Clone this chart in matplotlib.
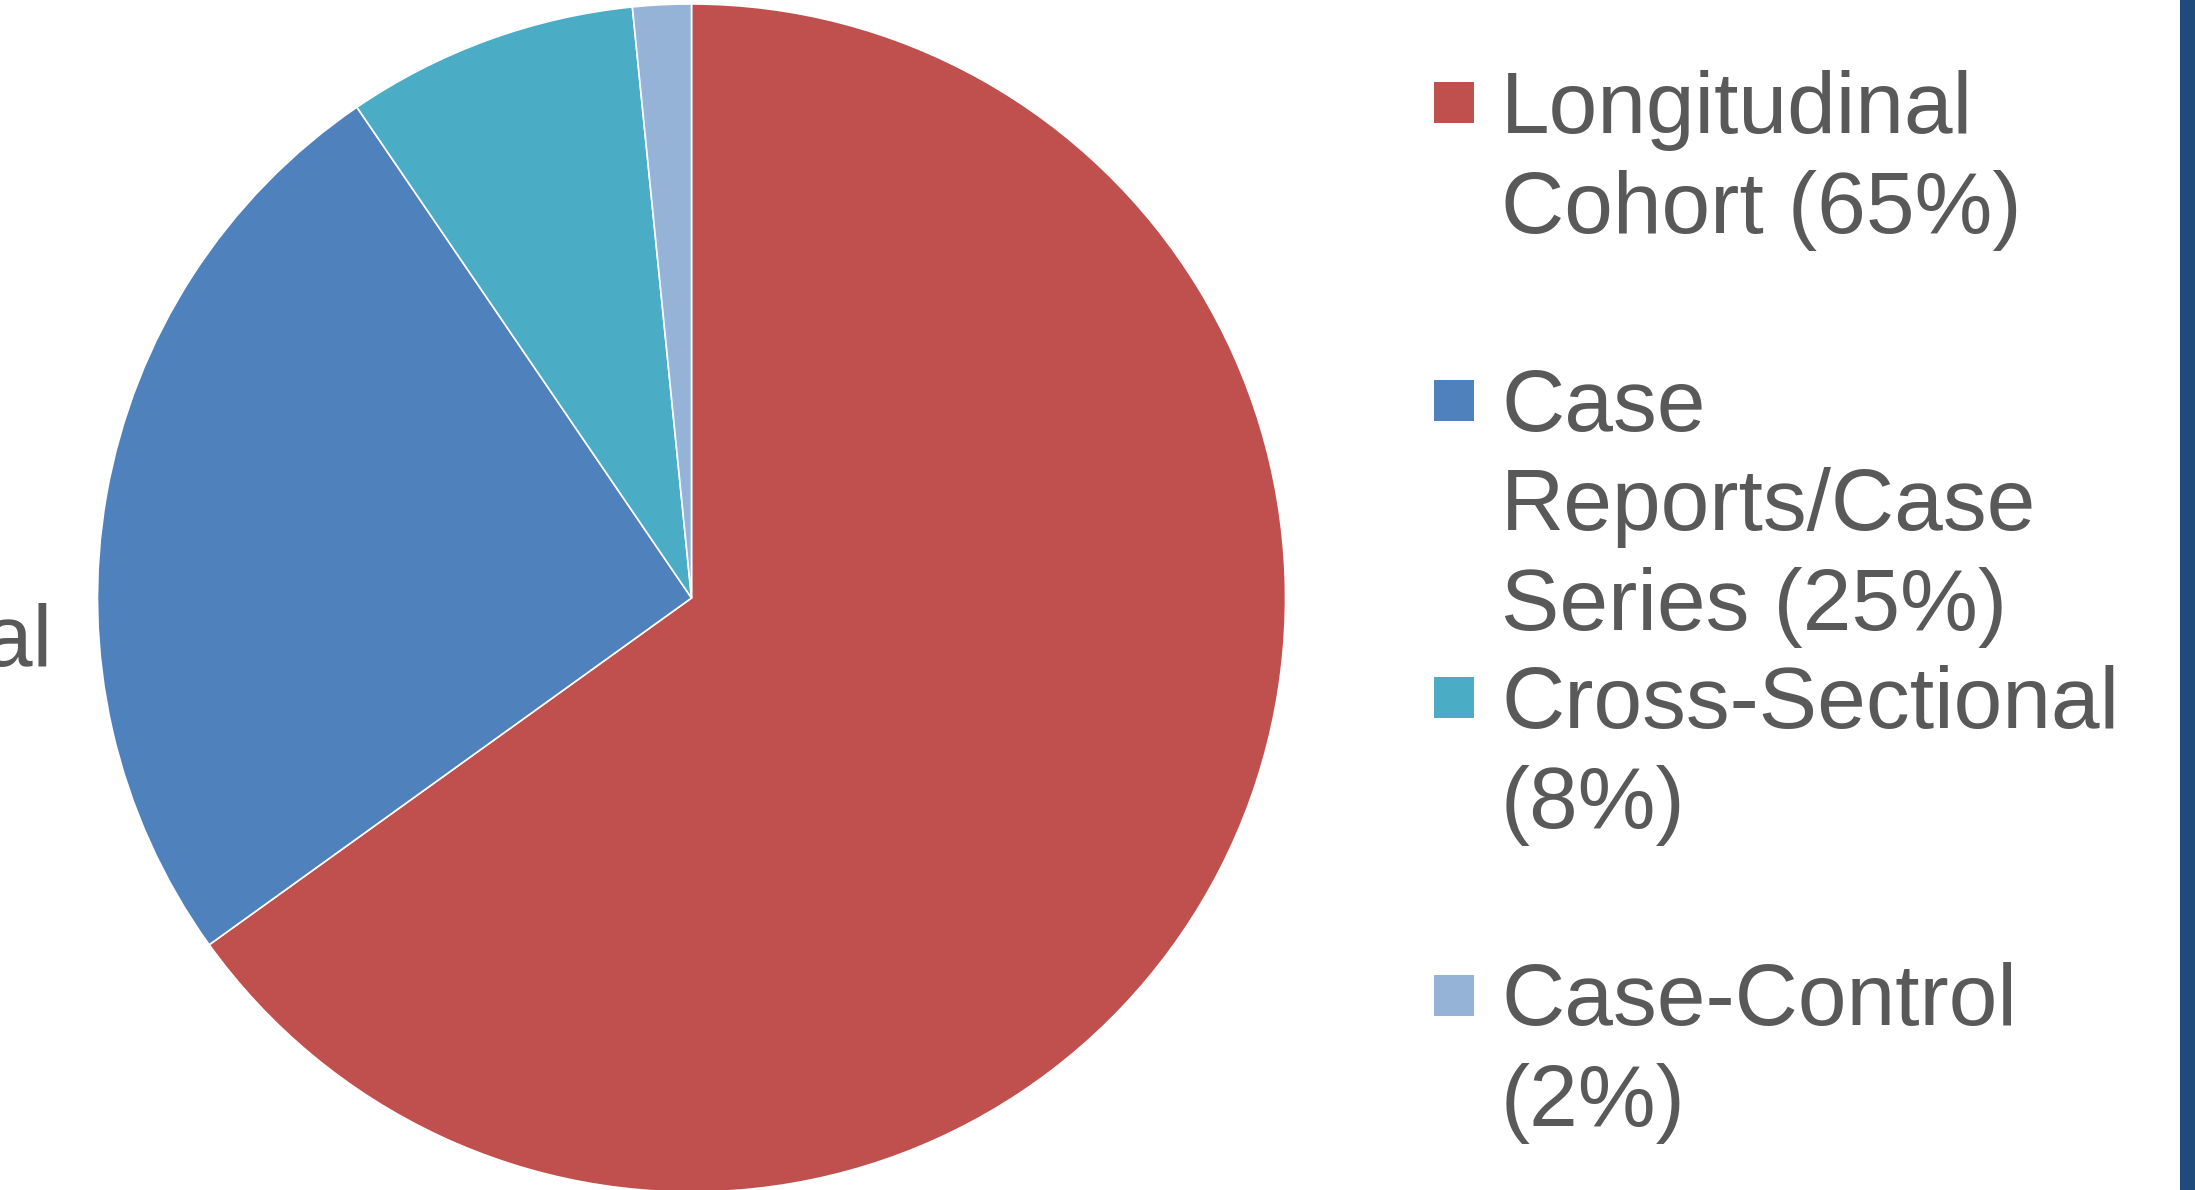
import matplotlib.pyplot as plt
from matplotlib.patches import Rectangle

# study design counts (63 studies)
designs = ["Longitudinal Cohort", "Case Reports/Case Series", "Cross-Sectional", "Case-Control"]
counts = [41, 16, 5, 1]
legend_lines = [
    ["Longitudinal", "Cohort (65%)"],
    ["Case", "Reports/Case", "Series (25%)"],
    ["Cross-Sectional", "(8%)"],
    ["Case-Control", "(2%)"],
]
colors = ["#C0504D", "#4F81BD", "#4BACC6", "#95B3D7"]

W, H = 2195, 1190
fig = plt.figure(figsize=(W / 100, H / 100), dpi=100)
plt.rcParams["font.family"] = ["Liberation Sans", "DejaVu Sans"]
txt_color = "#595959"

cx, cy, r = 691.5, 598, 594
ax = fig.add_axes([(cx - r) / W, 1 - (cy + r) / H, 2 * r / W, 2 * r / H])
ax.pie(counts, colors=colors, startangle=90, counterclock=False, radius=1,
       wedgeprops=dict(edgecolor="white", linewidth=1.2))
ax.set_xlim(-1, 1)
ax.set_ylim(-1, 1)
ax.axis("off")

# clipped label at the left edge
fig.text(53 / W, 1 - 666 / H, "Longitudinal", ha="right", va="baseline",
         fontsize=63, color=txt_color)

# legend drawn by hand (Excel-style spacing)
for i, lines in enumerate(legend_lines):
    base = 133 + 297.5 * i
    fig.patches.append(Rectangle((1434 / W, 1 - (base - 10) / H), 40 / W, 41 / H,
                                 transform=fig.transFigure, facecolor=colors[i],
                                 edgecolor="none"))
    for k, line in enumerate(lines):
        fig.text(1501 / W, 1 - (base + 100 * k) / H, line, ha="left", va="baseline",
                 fontsize=63, color=txt_color)

# dark blue bar on the right edge
fig.patches.append(Rectangle((2180 / W, 0), 15 / W, 1, transform=fig.transFigure,
                             facecolor="#1F4A7C", edgecolor="none"))

fig.savefig("out.png", dpi=100)
